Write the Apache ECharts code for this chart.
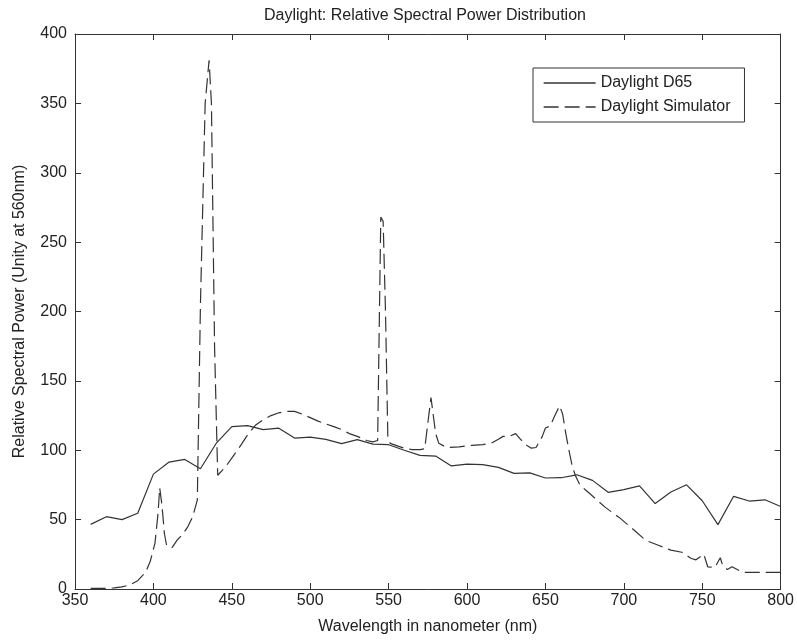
<!DOCTYPE html>
<html>
<head>
<meta charset="utf-8">
<title>Daylight: Relative Spectral Power Distribution</title>
<script src="https://cdn.jsdelivr.net/npm/echarts@6/dist/echarts.min.js"></script>
<style>
  html, body { margin: 0; padding: 0; background: #ffffff; }
  #chart { width: 797px; height: 640px; }
</style>
</head>
<body>
<div id="chart"></div>
<script>
// CIE D65 illuminant, 10 nm steps, normalised to 100 at 560 nm
const d65Wavelengths = [360, 370, 380, 390, 400, 410, 420, 430, 440, 450, 460, 470, 480, 490, 500,
  510, 520, 530, 540, 550, 560, 570, 580, 590, 600, 610, 620, 630, 640, 650, 660, 670, 680, 690,
  700, 710, 720, 730, 740, 750, 760, 770, 780, 790, 800];
const d65Values = [46.6, 52.1, 50.0, 54.6, 82.8, 91.5, 93.4, 86.7, 104.9, 117.0, 117.8, 114.9, 115.9,
  108.8, 109.4, 107.8, 104.8, 107.7, 104.4, 104.0, 100.0, 96.3, 95.8, 88.7, 90.0, 89.6, 87.7, 83.3,
  83.7, 80.0, 80.2, 82.3, 78.3, 69.7, 71.6, 74.3, 61.6, 69.9, 75.1, 63.6, 46.4, 66.8, 63.4, 64.3, 59.5];

// Fluorescent daylight simulator (mercury lines at 405, 436, 546 and 578 nm)
const simWavelengths = [360, 365, 370, 375, 380, 385, 390, 395, 398, 401, 403, 404, 405.5, 407, 408.5,
  412, 415, 419, 422, 425, 428, 430, 433, 435.5, 437, 439, 441, 446, 451, 456, 460, 465, 470, 475,
  480, 485, 490, 495, 500, 505, 510, 515, 520, 525, 530, 536, 540, 543, 545, 546.5, 548, 549.5, 551,
  556, 560, 565, 570, 573, 577, 580, 582, 587, 595, 603, 610, 616, 620, 623, 627, 631, 634, 637.5,
  641, 644, 646, 648, 650, 653, 656, 659, 661, 663, 665, 667, 669, 672, 676, 680, 688, 697, 707,
  714, 722, 730, 737, 743, 746, 751, 753.5, 758, 761.5, 763, 766, 769, 774, 777, 790, 800];
const simValues = [0.5, 0.5, 0.5, 0.8, 1.5, 3, 6, 12, 20, 33, 55, 73, 60, 40, 31,
  30, 35, 40, 45, 52, 64, 205, 350, 381, 350, 175, 82, 88, 96, 104, 111, 118, 122, 125,
  127, 128, 128, 126, 123.5, 121, 119, 117, 115, 112, 110, 107, 106, 107, 268, 265, 200, 109, 105,
  103, 101.5, 100.5, 100.5, 101, 138, 112, 105, 102, 102.5, 103.5, 104, 105.4, 108, 110, 110, 112, 108, 104,
  101.5, 102, 106, 110, 116, 117.5, 125, 132, 126, 112, 100, 89, 82, 75, 71, 67, 59, 51.6, 42,
  35, 31.5, 28, 26.5, 22, 21, 25, 16, 15.5, 22.5, 17, 14, 16, 13, 12, 12, 12];

const xTicks = { min: 350, max: 800, step: 50 };
const yTicks = { min: 0, max: 400, step: 50 };

const zip = (xs, ys) => xs.map((x, i) => [x, ys[i]]);

const ink = '#333333';
const textInk = '#222222';
const font = '"Liberation Sans", Arial, sans-serif';

const chart = echarts.init(document.getElementById('chart'), null, { renderer: 'canvas' });

const baseX = {
  type: 'value', min: xTicks.min, max: xTicks.max, interval: xTicks.step,
  axisLine: { show: true, onZero: false, lineStyle: { color: ink, width: 1 } },
  axisTick: { show: true, inside: true, length: 6, lineStyle: { color: ink } },
  splitLine: { show: false }
};
const baseY = {
  type: 'value', min: yTicks.min, max: yTicks.max, interval: yTicks.step,
  axisLine: { show: true, onZero: false, lineStyle: { color: ink, width: 1 } },
  axisTick: { show: true, inside: true, length: 6, lineStyle: { color: ink } },
  splitLine: { show: false }
};

chart.setOption({
  backgroundColor: '#ffffff',
  animation: false,
  title: {
    text: 'Daylight: Relative Spectral Power Distribution',
    left: 420, top: 3, textAlign: 'center',
    textStyle: { fontFamily: font, fontSize: 16, fontWeight: 'normal', color: textInk }
  },
  grid: { left: 75, right: 15, top: 34, bottom: 48, containLabel: false },
  legend: {
    left: 533, top: 68, orient: 'vertical',
    padding: [7, 14, 7, 10], itemGap: 8,
    itemWidth: 52, itemHeight: 16,
    borderColor: ink, borderWidth: 1, backgroundColor: '#ffffff',
    // keep only the line sample in each legend key
    itemStyle: { opacity: 0 },
    lineStyle: { color: ink, width: 1.3, opacity: 1 },
    textStyle: { fontFamily: font, fontSize: 16, color: textInk },
    data: ['Daylight D65', 'Daylight Simulator']
  },
  xAxis: [
    Object.assign({}, baseX, {
      position: 'bottom',
      name: 'Wavelength in nanometer (nm)', nameLocation: 'middle', nameGap: 30,
      nameTextStyle: { fontFamily: font, fontSize: 16, color: textInk },
      axisLabel: { margin: 4, fontFamily: font, fontSize: 16, color: textInk }
    }),
    Object.assign({}, baseX, { position: 'top', axisLabel: { show: false } })
  ],
  yAxis: [
    Object.assign({}, baseY, {
      position: 'left',
      name: 'Relative Spectral Power (Unity at 560nm)', nameLocation: 'middle', nameGap: 47,
      nameTextStyle: { fontFamily: font, fontSize: 16, color: textInk },
      axisLabel: { margin: 8, fontFamily: font, fontSize: 16, color: textInk }
    }),
    Object.assign({}, baseY, { position: 'right', axisLabel: { show: false } })
  ],
  series: [
    {
      name: 'Daylight D65', type: 'line', xAxisIndex: 0, yAxisIndex: 0,
      data: zip(d65Wavelengths, d65Values),
      showSymbol: false, symbol: 'none',
      lineStyle: { color: ink, width: 1.2, type: 'solid' },
      itemStyle: { color: ink }
    },
    {
      name: 'Daylight Simulator', type: 'line', xAxisIndex: 0, yAxisIndex: 0,
      data: zip(simWavelengths, simValues),
      showSymbol: false, symbol: 'none',
      lineStyle: { color: ink, width: 1.2, type: [15, 6] },
      itemStyle: { color: ink }
    }
  ]
});
</script>
</body>
</html>
